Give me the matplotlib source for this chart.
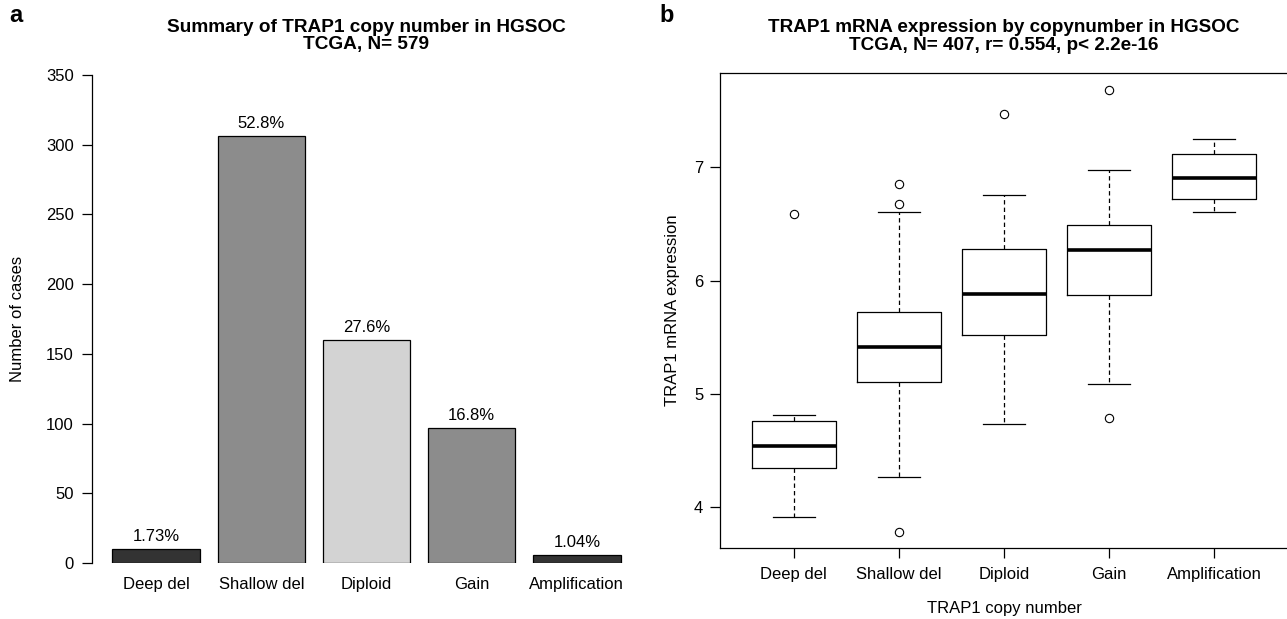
import matplotlib
matplotlib.use("Agg")
import matplotlib.pyplot as plt
import numpy as np

plt.rcParams['font.family'] = ['Liberation Sans', 'DejaVu Sans']

# ---------------- data ----------------
categories = ["Deep del", "Shallow del", "Diploid", "Gain", "Amplification"]
case_counts = [10, 306, 160, 97, 6]
pct_labels = ["1.73%", "52.8%", "27.6%", "16.8%", "1.04%"]
bar_colors = ["#333333", "#8c8c8c", "#d3d3d3", "#8c8c8c", "#333333"]
y_ticks_left = [0, 50, 100, 150, 200, 250, 300, 350]

# boxplot summary stats
box_whislo = [3.91, 4.26, 4.73, 5.09, 6.61]
box_q1 = [4.34, 5.10, 5.52, 5.87, 6.72]
box_med = [4.54, 5.41, 5.88, 6.27, 6.91]
box_q3 = [4.76, 5.72, 6.28, 6.49, 7.12]
box_whishi = [4.81, 6.61, 6.76, 6.98, 7.25]
box_fliers = [[6.59], [3.78, 6.68, 6.85], [7.47], [4.79, 7.68], []]
y_ticks_right = [4, 5, 6, 7]

W, H = 1287, 619
fig = plt.figure(figsize=(W / 100, H / 100), dpi=100)

def px_axes(l, t, r, b):
    return fig.add_axes([l / W, 1 - b / H, (r - l) / W, (b - t) / H])

# ---------------- panel a ----------------
ax1 = px_axes(92, 75, 641, 563)
x = np.arange(len(categories)) * 1.2 + 0.7
ax1.bar(x, case_counts, width=1.0, color=bar_colors, edgecolor="black", linewidth=0.9)
for xi, v, lab in zip(x, case_counts, pct_labels):
    ax1.annotate(lab, (xi, v), xytext=(0, 12.5 * 0.72), textcoords="offset points",
                 ha="center", va="center", fontsize=12)
ax1.set_xlim(-0.032, 6.232)
ax1.set_ylim(0, 350)
ax1.set_yticks(y_ticks_left)
ax1.set_xticks(x)
ax1.set_xticklabels(categories, fontsize=12)
ax1.tick_params(axis="x", length=0, pad=10)
ax1.tick_params(axis="y", length=7, width=0.9, labelsize=12, pad=6)
for s in ["top", "right", "bottom"]:
    ax1.spines[s].set_visible(False)
ax1.spines["left"].set_linewidth(0.9)
ax1.set_ylabel("Number of cases", fontsize=12)
ax1.yaxis.set_label_coords(-0.122, 0.5)

# ---------------- panel b ----------------
ax2 = px_axes(720, 73, 1288, 548)
stats = []
for i in range(len(categories)):
    stats.append(dict(med=box_med[i], q1=box_q1[i], q3=box_q3[i],
                      whislo=box_whislo[i], whishi=box_whishi[i],
                      fliers=box_fliers[i], label=categories[i]))
pos = np.arange(1, len(categories) + 1)
ax2.bxp(stats, positions=pos, widths=0.8, capwidths=0.4, showfliers=True,
        boxprops=dict(color="black", linewidth=0.9),
        whiskerprops=dict(color="black", linewidth=0.9, linestyle=(0, (3.5, 2.5))),
        capprops=dict(color="black", linewidth=0.9),
        medianprops=dict(color="black", linewidth=2.6, solid_capstyle="butt"),
        flierprops=dict(marker="o", markerfacecolor="none", markeredgecolor="black",
                        markersize=6, markeredgewidth=0.8, linestyle="none"))
ax2.set_xlim(0.3, 5.7)
ax2.set_ylim(3.637, 7.834)
ax2.set_yticks(y_ticks_right)
ax2.set_xticks(pos)
ax2.set_xticklabels(categories, fontsize=12)
ax2.tick_params(axis="both", length=7, width=0.9, labelsize=12)
ax2.tick_params(axis="y", pad=5)
ax2.tick_params(axis="x", pad=7)
for s in ax2.spines.values():
    s.set_linewidth(0.9)
ax2.set_xlabel("TRAP1 copy number", fontsize=12, labelpad=13)
ax2.set_ylabel("TRAP1 mRNA expression", fontsize=12, labelpad=10)

# ---------------- titles / panel letters ----------------
fig.text(366 / W, 1 - 27 / H, "Summary of TRAP1 copy number in HGSOC", ha="center", va="center",
         fontsize=13.7, fontweight="bold")
fig.text(366 / W, 1 - 45 / H, "TCGA, N= 579", ha="center", va="center",
         fontsize=13.7, fontweight="bold")
fig.text(1004 / W, 1 - 27 / H, "TRAP1 mRNA expression by copynumber in HGSOC", ha="center",
         va="center", fontsize=13.6, fontweight="bold")
fig.text(1004 / W, 1 - 45 / H, "TCGA, N= 407, r= 0.554, p< 2.2e-16", ha="center", va="center",
         fontsize=13.6, fontweight="bold")
fig.text(16 / W, 1 - 16 / H, "a", ha="center", va="center", fontsize=17, fontweight="bold")
fig.text(667 / W, 1 - 16 / H, "b", ha="center", va="center", fontsize=17, fontweight="bold")

fig.savefig("out.png", dpi=100)
